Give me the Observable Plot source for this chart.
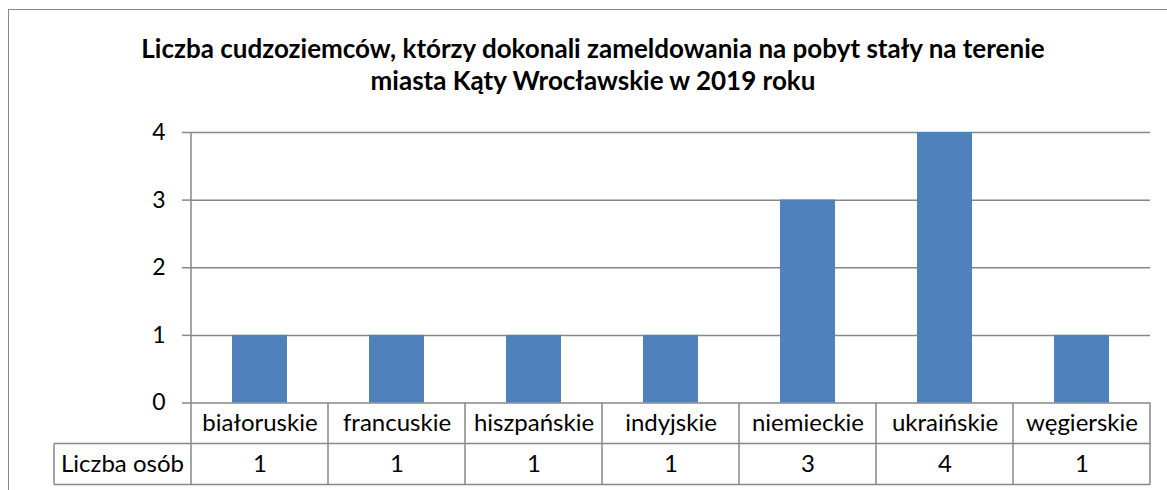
<!DOCTYPE html>
<html><head><meta charset="utf-8">
<script src="https://cdn.jsdelivr.net/npm/d3@7"></script>
<script src="https://cdn.jsdelivr.net/npm/@observablehq/plot@0.6"></script>
<style>
body{margin:0;background:#fff;}
#wrap{position:relative;width:1167px;height:490px;overflow:hidden;font-family:Lato,sans-serif;background:#fff;}
#frame{position:absolute;left:8px;top:9px;width:1300px;height:700px;border:1.5px solid #8a8a8a;}
#title{position:absolute;left:0;width:1186px;top:32px;text-align:center;font-weight:bold;font-size:26px;line-height:32px;color:#000;}
#chart{position:absolute;left:0;top:0;}
</style></head><body>
<div id="wrap"><div id="frame"></div><div id="title"></div><div id="chart"></div></div>
<script>
const titleLines = ["Liczba cudzoziemców, którzy dokonali zameldowania na pobyt stały na terenie", "miasta Kąty Wrocławskie w 2019 roku"];
const categories = ["białoruskie","francuskie","hiszpańskie","indyjskie","niemieckie","ukraińskie","węgierskie"];
const values = [1,1,1,1,3,4,1];
const seriesName = "Liczba osób";
const yTicks = [0,1,2,3,4];

const data = categories.map((c,i)=>({category:c, value:values[i]}));
const gray = "#878787";
const fontFamily = "Lato, sans-serif";
const fs = 24;

document.getElementById("title").innerHTML = titleLines.join("<br>");

const chart = Plot.plot({
  width:1167, height:490,
  marginTop:132, marginLeft:191, marginRight:17, marginBottom:87.5,
  style:{fontFamily, fontSize:fs+"px", background:"transparent", overflow:"visible", color:"#000"},
  x:{domain:categories, paddingInner:0.6, paddingOuter:0.3, axis:null},
  y:{domain:[0,4], axis:null},
  marks:[
    Plot.ruleY(yTicks, {stroke:gray, strokeWidth:1.5}),
    Plot.barY(data, {x:"category", y:"value", fill:"#4F81BD"}),
    Plot.axisY({ticks:yTicks, tickSize:9, tickPadding:17, stroke:gray, strokeWidth:1.5, fill:"#000", fontSize:23, label:null, tickFormat:d=>String(d)}),
    Plot.text(data, {x:"category", y:0, text:"category", dy:20.5, lineAnchor:"middle", fill:"#000", fontSize:fs}),
    Plot.text(data, {x:"category", y:0, text:d=>String(d.value), dy:61.5, lineAnchor:"middle", fill:"#000", fontSize:fs})
  ]
});

// data-table grid drawn from the plot's own scales
const sx = chart.scale("x"), sy = chart.scale("y");
const step = sx.step, bw = sx.bandwidth;
const y0 = sy.apply(0), yTop = sy.apply(4);
const row1 = y0 + 41, row2 = y0 + 82;
const bounds = categories.map(c => sx.apply(c) + bw/2 - step/2);
bounds.push(sx.apply(categories[categories.length-1]) + bw/2 + step/2);
const left = bounds[0], right = bounds[bounds.length-1];
const headLeft = left - 137;
const g = d3.select(chart).append("g").attr("stroke", gray).attr("stroke-width", 1.5).attr("fill","none");
g.append("line").attr("x1", left).attr("x2", left).attr("y1", yTop).attr("y2", row2);
bounds.slice(1).forEach(b => g.append("line").attr("x1", b).attr("x2", b).attr("y1", y0).attr("y2", row2));
g.append("line").attr("x1", headLeft).attr("x2", right).attr("y1", row1).attr("y2", row1);
g.append("line").attr("x1", headLeft).attr("x2", right).attr("y1", row2).attr("y2", row2);
g.append("line").attr("x1", headLeft).attr("x2", headLeft).attr("y1", row1).attr("y2", row2);
d3.select(chart).append("text").attr("x", (headLeft+left)/2).attr("y", (row1+row2)/2).attr("dy","0.32em")
  .attr("text-anchor","middle").attr("font-family", fontFamily).attr("font-size", fs).attr("fill","#000").text(seriesName);

document.getElementById("chart").appendChild(chart);
</script>
</body></html>
